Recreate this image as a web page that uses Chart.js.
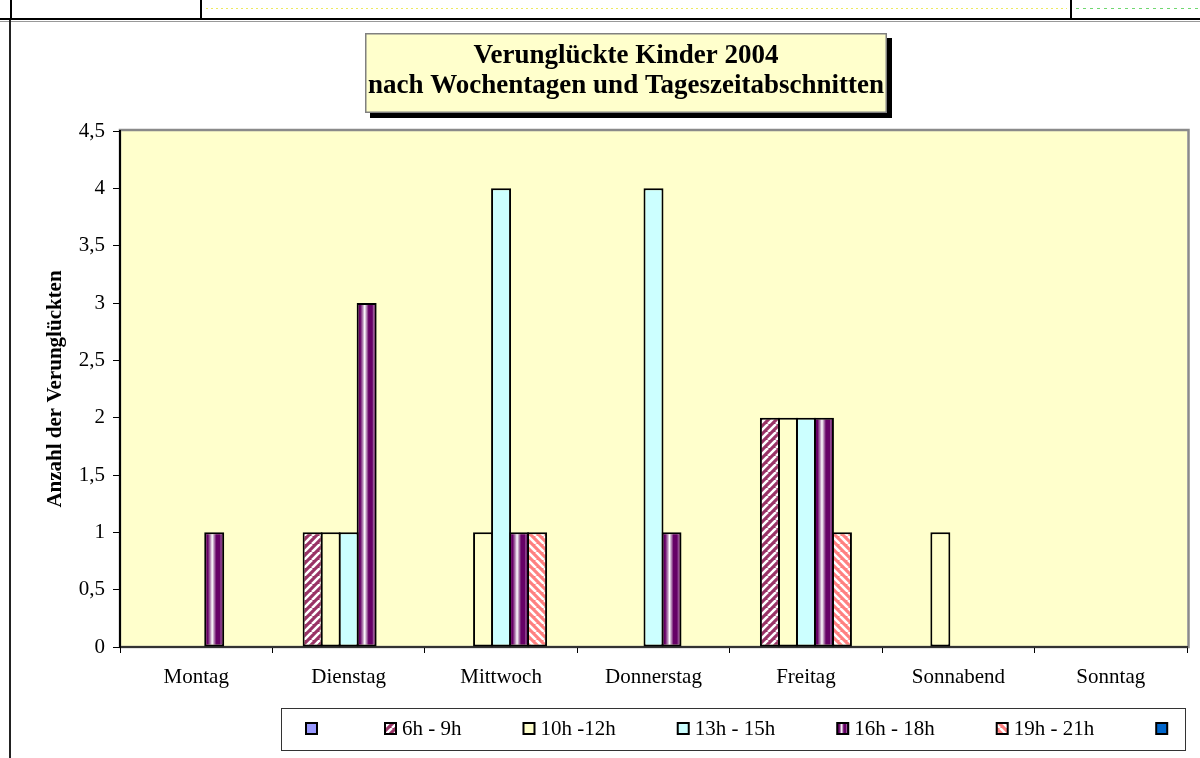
<!DOCTYPE html>
<html>
<head>
<meta charset="utf-8">
<script src="https://cdn.jsdelivr.net/npm/chart.js@4.4.1/dist/chart.umd.min.js"></script>
<style>
html,body{margin:0;padding:0;background:#fff;}
#wrap{position:relative;width:1200px;height:758px;overflow:hidden;}
canvas{display:block;}
</style>
</head>
<body>
<div id="wrap"><canvas id="c" width="1200" height="758"></canvas></div>
<script>
// ---- data ----
const categories = ['Montag', 'Dienstag', 'Mittwoch', 'Donnerstag', 'Freitag', 'Sonnabend', 'Sonntag'];
const seriesLabels = ['', '6h - 9h', '10h -12h', '13h - 15h', '16h - 18h', '19h - 21h', ''];
const seriesLeerA = [0, 0, 0, 0, 0, 0, 0];
const series6bis9 = [0, 1, 0, 0, 2, 0, 0];
const series10bis12 = [0, 1, 1, 0, 2, 1, 0];
const series13bis15 = [0, 1, 4, 4, 2, 0, 0];
const series16bis18 = [1, 3, 1, 1, 2, 0, 0];
const series19bis21 = [0, 0, 1, 0, 1, 0, 0];
const seriesLeerB = [0, 0, 0, 0, 0, 0, 0];
const yTickValues = [0, 0.5, 1, 1.5, 2, 2.5, 3, 3.5, 4, 4.5];
const titleLines = ['Verunglückte Kinder 2004', 'nach Wochentagen und Tageszeitabschnitten'];
const yAxisTitle = 'Anzahl der Verunglückten';

const FAMILY = "'Liberation Serif', 'Times New Roman', serif";
Chart.defaults.font.family = FAMILY;
Chart.defaults.color = '#000';

// ---- fills ----
function hatch(base, stripe, dir) {
  const s = 8;
  const c = document.createElement('canvas');
  c.width = s; c.height = s;
  const g = c.getContext('2d');
  g.fillStyle = base; g.fillRect(0, 0, s, s);
  g.strokeStyle = stripe; g.lineWidth = 2.6;
  g.beginPath();
  for (const k of [-s, 0, s]) {
    if (dir === 'up') { g.moveTo(k, s); g.lineTo(k + s, 0); }
    else { g.moveTo(k, 0); g.lineTo(k + s, s); }
  }
  g.stroke();
  return g.createPattern(c, 'repeat');
}
const fillMaroon = hatch('#993366', '#ffffff', 'up');
const fillSalmon = hatch('#FF8080', '#ffffff', 'down');

function purpleGradient(ctx, x0, x1) {
  const g = ctx.createLinearGradient(x0, 0, x1, 0);
  g.addColorStop(0, '#660066');
  g.addColorStop(0.18, '#660066');
  g.addColorStop(0.30, '#b080b0');
  g.addColorStop(0.40, '#ffffff');
  g.addColorStop(0.50, '#b080b0');
  g.addColorStop(0.60, '#660066');
  g.addColorStop(0.78, '#660066');
  g.addColorStop(0.84, '#9a5a9a');
  g.addColorStop(0.90, '#660066');
  g.addColorStop(1, '#660066');
  return g;
}

const seriesValues = [seriesLeerA, series6bis9, series10bis12, series13bis15, series16bis18, series19bis21, seriesLeerB];
const seriesFills = ['#9999FF', fillMaroon, '#FFFFCC', '#CCFFFF', '#660066', fillSalmon, '#0066CC'];

const datasets = seriesValues.map((vals, i) => ({
  label: seriesLabels[i],
  data: vals,
  backgroundColor: seriesFills[i],
  borderColor: '#000',
  borderWidth: 2,
  borderSkipped: false,
  inflateAmount: 0,
  barPercentage: 1.11,
  categoryPercentage: 0.827
}));

// ---- plugins ----
const decor = {
  id: 'decor',
  beforeDraw(chart) {
    const ctx = chart.ctx, a = chart.chartArea;
    ctx.save();
    ctx.fillStyle = '#fff';
    ctx.fillRect(0, 0, chart.width, chart.height);
    // page frame (table on top, left border)
    ctx.strokeStyle = '#000';
    ctx.lineWidth = 2;
    ctx.beginPath();
    ctx.moveTo(0, 19); ctx.lineTo(1200, 19);
    for (const x of [11, 201, 1071]) { ctx.moveTo(x, 0); ctx.lineTo(x, 19); }
    ctx.stroke();
    ctx.strokeStyle = '#999'; ctx.lineWidth = 1;
    ctx.beginPath(); ctx.moveTo(0, 21.5); ctx.lineTo(1200, 21.5); ctx.stroke();
    ctx.strokeStyle = '#222'; ctx.lineWidth = 2;
    ctx.beginPath(); ctx.moveTo(10, 20); ctx.lineTo(10, 758); ctx.stroke();
    ctx.setLineDash([2, 3]);
    ctx.lineWidth = 1;
    ctx.strokeStyle = '#eeea60';
    ctx.beginPath(); ctx.moveTo(206, 8.5); ctx.lineTo(1067, 8.5); ctx.stroke();
    ctx.strokeStyle = '#70d870';
    ctx.setLineDash([3, 4]);
    ctx.beginPath(); ctx.moveTo(1076, 8.5); ctx.lineTo(1200, 8.5); ctx.stroke();
    ctx.setLineDash([]);
    // plot area
    ctx.fillStyle = '#FFFFCC';
    ctx.fillRect(a.left, a.top, a.right - a.left, a.bottom - a.top);
    ctx.strokeStyle = '#8a8a8a';
    ctx.lineWidth = 2.5;
    ctx.strokeRect(a.left, a.top - 1, a.right - a.left + 1.5, a.bottom - a.top + 1);
    ctx.restore();
  },
  beforeDatasetDraw(chart, args) {
    if (args.index !== 4) return;
    const ctx = chart.ctx;
    args.meta.data.forEach(el => {
      const p = el.getProps(['x', 'width'], true);
      const g = purpleGradient(ctx, p.x - p.width / 2, p.x + p.width / 2);
      el.options = Object.assign({}, el.options, { backgroundColor: g });
    });
  },
  afterDraw(chart) {
    const ctx = chart.ctx;
    ctx.save();
    // title box with shadow
    const bx = 365, by = 33, bw = 522, bh = 80;
    ctx.fillStyle = '#000';
    ctx.fillRect(bx + 5, by + 5, bw, bh);
    ctx.fillStyle = '#FFFFCC';
    ctx.fillRect(bx, by, bw, bh);
    ctx.strokeStyle = '#808080';
    ctx.lineWidth = 1.5;
    ctx.strokeRect(bx + 0.75, by + 0.75, bw - 1.5, bh - 1.5);
    ctx.fillStyle = '#000';
    ctx.font = 'bold 27px ' + FAMILY;
    ctx.textAlign = 'center';
    ctx.textBaseline = 'alphabetic';
    ctx.fillText(titleLines[0], bx + bw / 2, 63);
    ctx.fillText(titleLines[1], bx + bw / 2, 93);

    // legend box
    const lx = 281, ly = 708, lw = 904, lh = 42;
    ctx.fillStyle = '#fff';
    ctx.fillRect(lx, ly, lw, lh);
    ctx.strokeStyle = '#333';
    ctx.lineWidth = 1;
    ctx.strokeRect(lx + 0.5, ly + 0.5, lw, lh);
    ctx.font = '21px ' + FAMILY;
    ctx.textAlign = 'left';
    ctx.textBaseline = 'middle';
    let x = 306;
    const sy = 723, ss = 11;
    chart.data.datasets.forEach((ds, i) => {
      let f = ds.backgroundColor;
      if (i === 4) f = purpleGradient(ctx, x, x + ss);
      ctx.fillStyle = f;
      ctx.fillRect(x, sy, ss, ss);
      ctx.strokeStyle = '#000';
      ctx.lineWidth = 2;
      ctx.strokeRect(x, sy, ss, ss);
      ctx.fillStyle = '#000';
      const tx = x + ss + 6;
      ctx.fillText(ds.label, tx, 729);
      x = tx + ctx.measureText(ds.label).width + 62;
    });
    ctx.restore();
  }
};

new Chart(document.getElementById('c'), {
  type: 'bar',
  data: { labels: categories, datasets },
  plugins: [decor],
  options: {
    responsive: false,
    animation: false,
    layout: { padding: { top: 131, left: 0, right: 13, bottom: 0 } },
    plugins: { legend: { display: false }, title: { display: false }, tooltip: { enabled: false } },
    scales: {
      x: {
        ticks: { font: { size: 21 }, color: '#000', padding: 12, maxRotation: 0, autoSkip: false },
        grid: { drawOnChartArea: false, drawTicks: true, tickLength: 6, color: '#000', offset: true },
        border: { color: '#333', width: 2 },
        afterFit: s => { s.height = 111; }
      },
      y: {
        min: 0, max: 4.5,
        afterBuildTicks: s => { s.ticks = yTickValues.map(v => ({ value: v })); },
        ticks: { font: { size: 21 }, color: '#000', padding: 8, callback: v => String(v).replace('.', ',') },
        grid: { drawOnChartArea: false, drawTicks: true, tickLength: 7, color: '#000' },
        border: { color: '#000', width: 2 },
        title: { display: true, text: yAxisTitle, font: { size: 21, weight: 'bold' }, color: '#000', padding: { top: 43, bottom: 0 } },
        afterFit: s => { s.width = 120; }
      }
    }
  }
});
</script>
</body>
</html>
